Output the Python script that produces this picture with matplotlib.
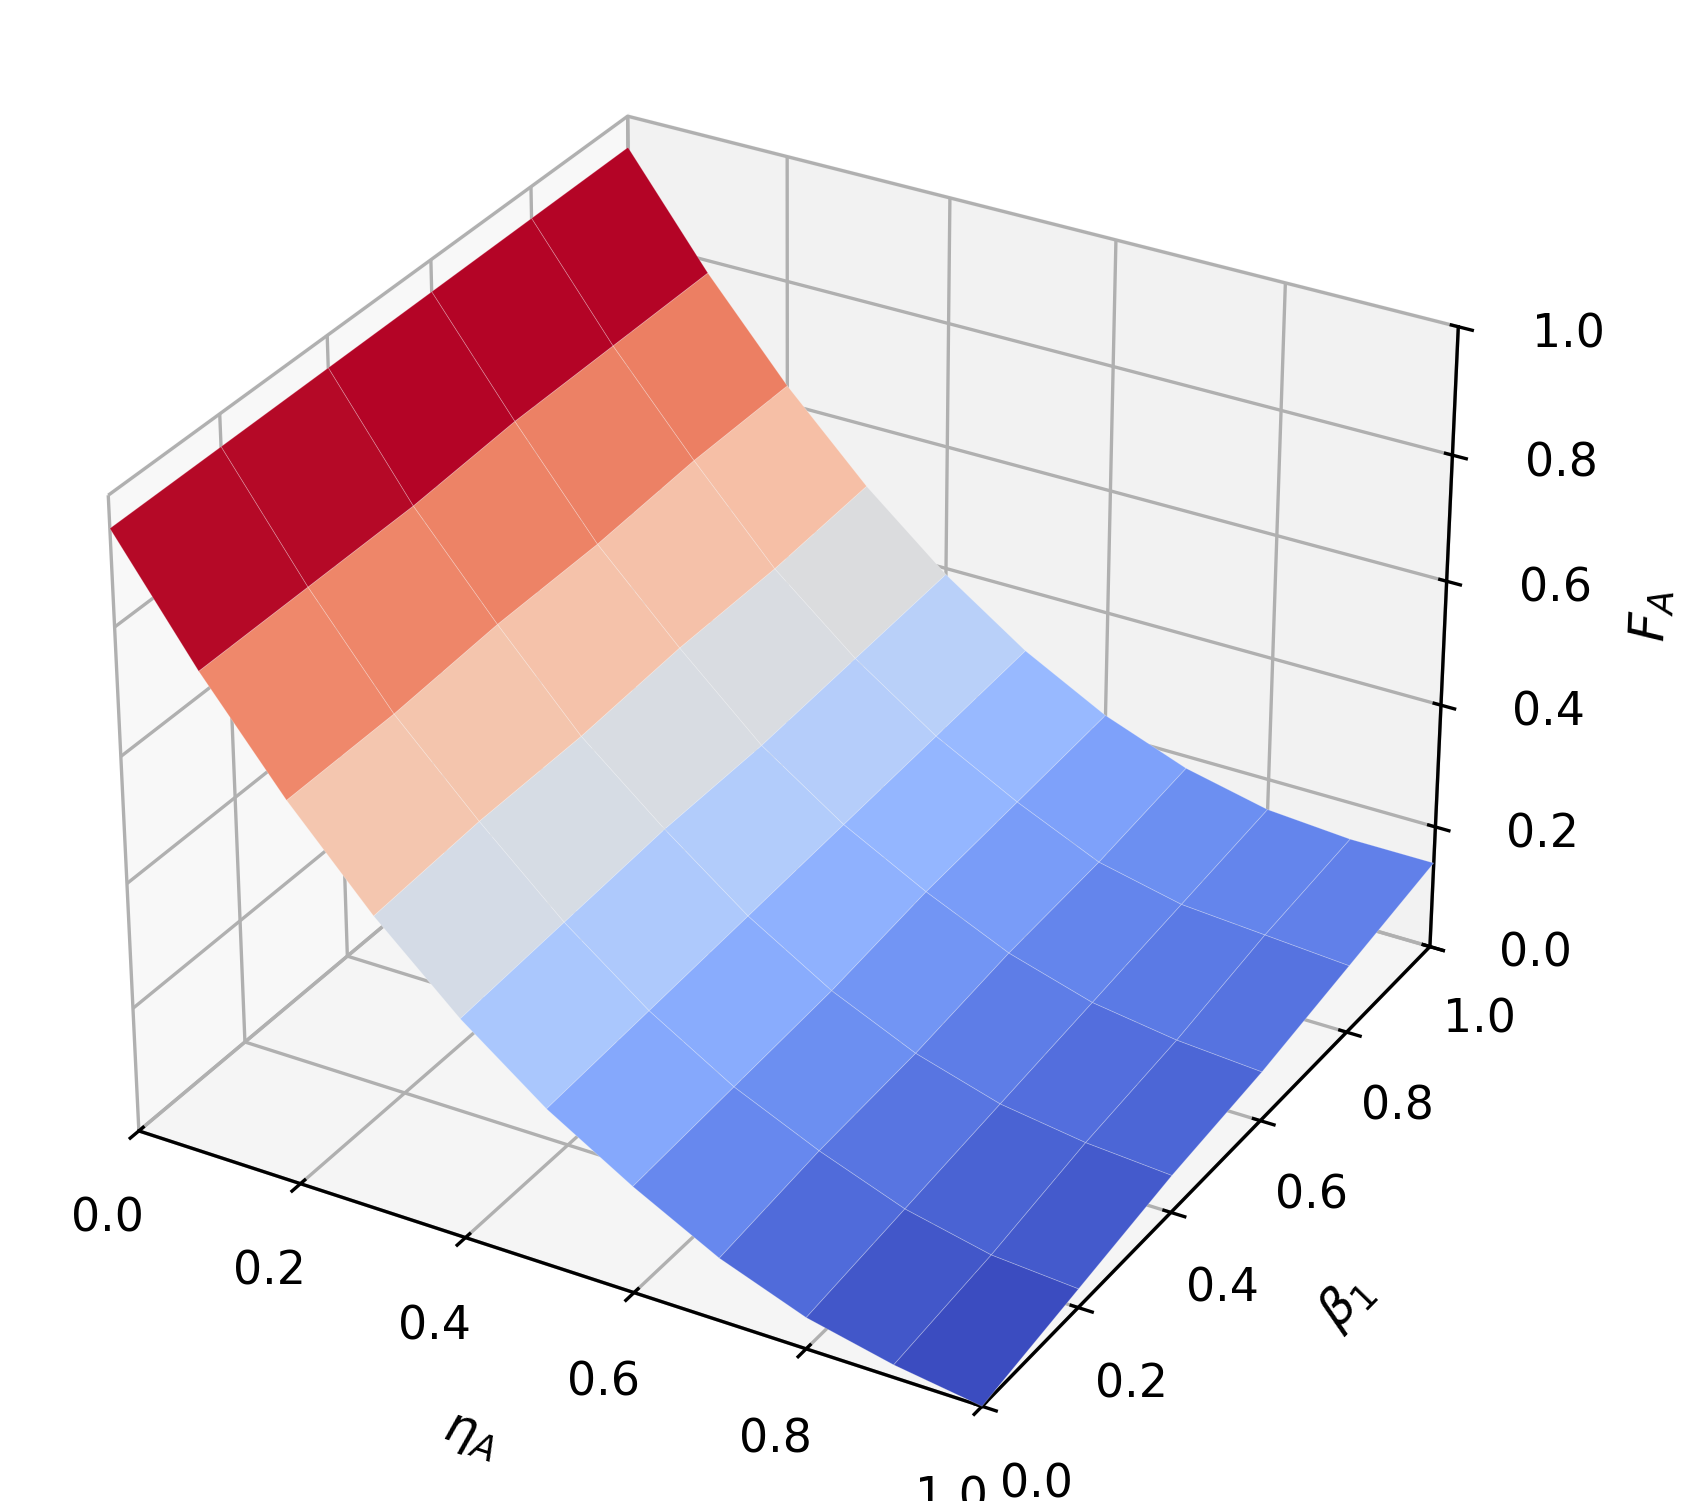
import numpy as np
import matplotlib
matplotlib.use("Agg")
import matplotlib.pyplot as plt
from matplotlib import cm

# values
eta_a = [0.0, 0.1, 0.2, 0.3, 0.4, 0.5, 0.6, 0.7, 0.8, 0.9, 1.0]
beta_1 = [0.0, 0.2, 0.4, 0.6, 0.8, 1.0]
f_a = [
    [0.95, 0.77, 0.61, 0.47, 0.35, 0.25, 0.17, 0.10, 0.05, 0.02, 0.00],
    [0.95, 0.77, 0.61, 0.48, 0.36, 0.26, 0.18, 0.12, 0.07, 0.04, 0.03],
    [0.95, 0.77, 0.62, 0.48, 0.37, 0.27, 0.19, 0.13, 0.09, 0.07, 0.06],
    [0.95, 0.78, 0.62, 0.49, 0.37, 0.28, 0.21, 0.15, 0.11, 0.09, 0.08],
    [0.95, 0.78, 0.63, 0.49, 0.38, 0.29, 0.22, 0.16, 0.13, 0.12, 0.11],
    [0.95, 0.78, 0.63, 0.50, 0.39, 0.30, 0.23, 0.18, 0.15, 0.14, 0.14],
]
ticks = [0.0, 0.2, 0.4, 0.6, 0.8, 1.0]

X, Y = np.meshgrid(eta_a, beta_1)
Z = np.array(f_a)

fig = plt.figure(figsize=(1687 / 300, 1501 / 300), dpi=300)
ax = fig.add_axes([-0.04, 0.0, 1.0, 1.0], projection='3d')
ax.plot_surface(X, Y, Z, cmap=cm.coolwarm, linewidth=0.2, edgecolor=(1, 1, 1, 0.25),
                antialiased=True, rstride=1, cstride=1)
ax.set_xlim(0, 1)
ax.set_ylim(0, 1)
ax.set_zlim(0, 1)
ax.set_xticks(ticks)
ax.set_yticks(ticks)
ax.set_zticks(ticks)
ax.tick_params(labelsize=11)
ax.tick_params(axis='z', pad=8)
ax.set_xlabel(r'$\eta_A$', fontsize=12, labelpad=8)
ax.set_ylabel(r'$\beta_1$', fontsize=12, labelpad=8)
ax.set_zlabel(r'$F_A$', fontsize=12, labelpad=10)

fig.savefig('out.png', dpi=300)
